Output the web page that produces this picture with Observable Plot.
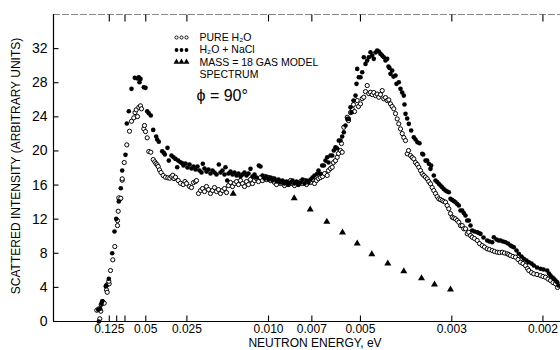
<!DOCTYPE html>
<html>
<head>
<meta charset="utf-8">
<script src="https://cdn.jsdelivr.net/npm/d3@7"></script>
<script src="https://cdn.jsdelivr.net/npm/@observablehq/plot@0.6"></script>
<style>
  html, body { margin: 0; padding: 0; background: #fff; }
  #chart { width: 560px; height: 350px; }
</style>
</head>
<body>
<div id="chart"></div>
<script>
// x values are time-of-flight channels, proportional to 1/sqrt(E): channel = K / sqrt(E[eV])
const K = 22.2;

// Pure H2O  [channel, intensity]
const pureH2O = [
[50.3,1.32],[52.3,1.49],[53.3,0.32],[54.3,1.21],[54.7,1.99],[56.3,2.34],[57.7,2.15],[60,3.72],[60.7,3.43],[61,4.34],
[62.7,4.42],[62.3,4.72],[64,5.98],[66.3,7.23],[68.3,8.79],[71,11.25],[71,11.84],[71.7,12.93],[73,14.3],[72.3,14.5],
[74.3,14.45],[75.7,16.57],[75.7,16.73],[77.7,18.64],[80.3,20.71],[83,22.31],[85,23.48],[87.3,23.88],[88.5,24.5],[89.7,24.82],
[91,24.03],[92.3,25.12],[94,25.29],[95,24.94],[97.3,22.59],[98,22.98],[99,22.27],[100.7,21.54],[102.3,19.93],[104.3,19.85],
[106.7,18.99],[108.3,18.72],[109.5,18.52],[110.7,18.37],[111.7,18.17],[113,17.78],[114.5,17.47],[116.7,17.12],[119,16.92],[121.3,16.85],
[123.3,16.8],[125,17.0],[126.3,17.15],[127.5,16.76],[129,16.92],[131.7,16.53],[134,16.21],[136.7,16.06],[138.5,16.41],[140,16.18],
[143,15.83],[145,15.71],[147,16.3],[149,16.41],[150,16.53],[152,15.01],[154,15.36],[156,15.59],[158,15.24],[160,15.83],
[162,15.47],[164,15.01],[166,15.36],[168,15.71],[170,15.24],[172,15.47],[174,15.01],[176,15.36],[178,15.59],[180,15.12],
[182,15.94],[184,16.3],[186,15.83],[188,16.18],[190,16.41],[192,16.06],[194,16.53],[196,16.18],[198,15.83],[200,16.41],
[202,16.06],[204,16.65],[206,16.18],[208,16.53],[210,16.76],[212,16.41],[214,16.88],[216,16.53],[218,17.0],[220,16.65],
[222,16.88],[224,16.53],[226,16.76],[228,16.3],[230,16.06],[232,16.53],[234,16.18],[236,16.41],[238,15.94],[240,16.3],
[242,16.06],[244,16.53],[246,16.18],[248,15.94],[250,16.3],[252,16.06],[254,16.41],[256,16.18],[258,16.53],[260,16.06],
[262,16.41],[264,16.3],[266,16.65],[268,16.18],[270,16.53],[272,16.76],[274,16.88],[276,17.0],[278,17.35],[280.7,17.12],
[282,17.7],[284,17.94],[285.7,18.09],[287,18.64],[289,18.87],[290.7,19.26],[292,19.7],[294,20.05],[295.7,19.85],[295,20.87],
[297.3,22.78],[300.7,23.95],[302,23.56],[304,24.5],[305.7,24.94],[307,25.44],[308,24.62],[310.7,25.91],[312,25.21],[314,25.52],
[315.7,26.14],[317.3,26.3],[319,26.96],[320.7,27.67],[322.3,26.73],[324,26.88],[325.7,26.61],[327.3,26.85],[329,26.49],[330.7,26.67],
[332.3,26.3],[334,26.61],[335.7,27.08],[337.3,26.11],[339,26.26],[340.7,25.91],[342.3,25.99],[344,25.52],[345.7,25.21],[347.3,24.94],
[349,24.38],[350.7,23.76],[352.3,23.18],[354,22.59],[355.7,22.04],[357.3,21.57],[359,21.22],[360.7,19.66],[362,20.05],[364,19.46],
[365.7,19.23],[367.3,19.07],[369,18.64],[370.7,18.41],[372.3,18.09],[374,17.7],[375.7,17.32],[377.3,17.12],[379,16.94],[380.7,16.73],
[382.3,16.41],[384,16.14],[385.7,15.71],[387.3,15.36],[389,15.01],[390.7,14.65],[392.3,14.38],[394,14.3],[395.7,14.19],[397.3,14.07],
[399,13.99],[400.7,13.6],[402.3,13.21],[404,12.66],[405.7,12.23],[407.3,12.13],[409,12.04],[410.7,11.84],[412.3,11.64],[414,11.25],
[415.7,11.25],[417.3,10.87],[419,10.87],[420.7,10.28],[422.3,10.47],[424,10.08],[425.7,9.88],[428,9.73],[430.7,9.5],[433,9.14],
[435.7,8.91],[438,8.73],[440.7,8.52],[443,8.44],[445.7,8.32],[448,8.21],[450.7,8.12],[453,8.09],[455.7,8.12],[458,8.03],
[460.7,7.94],[462.3,7.85],[464,7.74],[466.5,7.62],[469,7.54],[471.5,7.27],[474,6.95],[476.5,6.8],[479,6.56],[481,6.21],
[482.3,5.98],[485,5.74],[487.3,5.59],[490.5,5.51],[494,5.39],[496.5,5.28],[499,5.19],[501.5,4.98],[504,4.81],[506.5,4.57],
[509,4.42],[511,3.99]
];

// H2O + NaCl  [channel, intensity]
const h2oNaCl = [
[52.3,0.0],[51.7,1.37],[53.7,1.49],[55,2.08],[55.7,2.38],[59.3,4.14],[59.7,4.22],[62.3,5.01],[65.7,8.01],[68,10.55],
[69.7,12.04],[72.3,14.07],[74.3,15.63],[75.7,17.7],[79,19.54],[80.3,23.21],[82.3,24.65],[85,27.28],[88.3,28.57],[91,28.49],
[92.3,28.64],[93,28.05],[94,28.45],[97.3,27.47],[99,27.4],[100.7,24.65],[102.3,24.42],[104.3,24.15],[106.7,22.47],[109.7,21.69],
[110.7,21.34],[112.3,21.07],[115.7,19.96],[117.3,19.78],[118.3,19.58],[121,20.36],[122.3,18.87],[125,19.46],[127,19.26],[129,19.07],
[130.7,18.09],[131.7,18.87],[134,18.68],[135.7,18.56],[137,18.29],[139,18.52],[141,18.05],[143,18.41],[145,17.94],[147,18.17],
[149,17.82],[151,18.17],[153,17.7],[155,17.47],[156.3,18.49],[158,17.94],[160,17.58],[162,17.82],[164,17.35],[166,17.7],
[168,17.47],[170,17.23],[172.3,18.41],[174,17.47],[176,17.7],[178,17.23],[179,18.09],[180.7,16.53],[182,17.35],[184,17.58],
[186,17.23],[188,17.47],[190,17.12],[192,17.35],[194,17.0],[196,17.23],[198,17.47],[200,17.12],[202,17.35],[204,17.9],
[206,17.0],[208,17.23],[210,16.88],[212.3,18.29],[214,18.17],[216,17.12],[218,16.76],[220,17.0],[222,16.65],[224,16.88],
[226,16.53],[228,16.76],[230,16.41],[232,16.65],[234,16.3],[236,16.53],[238,16.18],[240,16.41],[242,16.06],[244,16.3],
[246,16.53],[248,16.18],[250,16.41],[252,16.06],[254,16.3],[256,16.65],[258,16.18],[260,16.53],[262,16.3],[264,16.65],
[266,16.88],[268,17.12],[270.7,17.32],[272,17.7],[274,17.32],[275.7,18.29],[277.3,18.29],[279,18.87],[280.7,19.26],[282,18.64],
[284,19.46],[285.7,19.46],[287.3,20.05],[289,20.43],[290.7,20.28],[292.3,21.22],[294,21.22],[295.7,21.69],[297.3,22.19],[299,22.98],
[300.7,23.76],[302.3,23.76],[304,25.12],[305,24.5],[307,25.91],[309,26.49],[310,27.87],[310.7,29.62],[312.3,28.64],[314,28.64],
[315.7,29.23],[317.3,30.98],[319,30.21],[320.7,30.6],[322.3,30.98],[324,31.57],[325.7,31.18],[327.3,30.8],[329,31.54],[330.7,31.77],
[332.3,31.65],[334,31.38],[335.7,31.18],[337.3,30.98],[339,30.6],[340.7,30.8],[342,29.89],[343,29.72],[344,29.04],[345.7,29.43],
[347,28.72],[349,28.84],[350,27.87],[352.3,28.05],[354,27.28],[355.7,26.85],[357.3,26.49],[358,25.44],[359,24.35],[360.7,23.8],
[362.3,23.18],[364.7,22.39],[367.3,21.61],[369,21.34],[371,21.02],[373,20.9],[375.7,19.66],[376.7,19.58],[379,18.87],[380.7,18.87],
[382.3,18.49],[384,17.9],[384.7,18.29],[387.3,17.12],[389,16.53],[390.7,16.35],[392.3,16.14],[394,15.94],[395.7,15.74],[397.3,15.53],
[399,15.36],[400.7,15.24],[402.3,15.16],[404,14.38],[405.7,14.24],[407.3,14.13],[409,13.99],[410.7,13.77],[412.3,13.6],[414,13.01],
[415.7,13.01],[417.3,12.72],[419,12.43],[420.7,11.84],[422.3,11.84],[424,11.25],[425.7,10.67],[428,10.55],[430.7,10.47],[432.3,10.38],
[434,10.28],[437,9.85],[440.7,9.5],[443,9.38],[445.7,9.3],[447.3,9.88],[450,9.61],[452,9.5],[454,9.5],[456.5,9.38],
[459,9.3],[461.5,9.14],[464,8.91],[465.7,8.79],[467.3,8.71],[470,8.32],[472.3,7.94],[475,7.62],[477.3,7.35],[480,7.15],
[482.3,6.95],[485,6.8],[487.3,6.56],[490.5,6.33],[494,6.18],[497,6.1],[500.7,5.98],[502.5,5.63],[504,5.39],[506,5.16],
[507.3,5.01],[509,4.81],[510.7,4.61],[512,4.22]
];

// Mass = 18 gas model spectrum  [channel, intensity]
const gasModel = [
[186.7,14.97],[247.7,14.45],[263.7,13.13],[280.3,11.69],[296,10.43],[310.7,9.14],[325.3,7.89],
[341.3,6.8],[357.3,5.9],[375,5.08],[388,4.34],[404,3.75]
];

// axis ticks
const xTickEnergies = [0.125, 0.1, 0.08, 0.05, 0.025, 0.010, 0.007, 0.005, 0.003, 0.002];
const xLabelEnergies = [0.125, 0.05, 0.025, 0.010, 0.007, 0.005, 0.003, 0.002];
const xLabelTexts = ["0.125", "0.05", "0.025", "0.010", "0.007", "0.005", "0.003", "0.002"];
const yTicks = [0, 4, 8, 12, 16, 20, 24, 28, 32];

// legend
const legendLabels = ["PURE H\u2082O", "H\u2082O + NaCl", "MASS = 18 GAS MODEL", "SPECTRUM"];

const xDomain = [7, 514];
const yDomain = [0, 36];

const chan = e => K / Math.sqrt(e);
const xLabels = xLabelEnergies.map((e, i) => ({e, label: xLabelTexts[i]}));

const tickUp = {draw(c) { c.moveTo(0, 0); c.lineTo(0, -6); }};
const tickDown = {draw(c) { c.moveTo(0, 0); c.lineTo(0, 7); }};
const tickRight = {draw(c) { c.moveTo(0, 0); c.lineTo(5, 0); }};

const font = "'Liberation Sans', Arial, 'DejaVu Sans', sans-serif";

const rowDy = [23, 35.5, 48, 60.5];
const legendMarks = [];
[0, 1, 2].forEach(k => {
  legendMarks.push(Plot.dot([0], {frameAnchor: "top-left", dx: 123 + 5 * k, dy: rowDy[0], r: 1.6, stroke: "black", fill: "white", strokeWidth: 0.9}));
  legendMarks.push(Plot.dot([0], {frameAnchor: "top-left", dx: 123 + 5 * k, dy: rowDy[1], r: 1.9, fill: "black"}));
  legendMarks.push(Plot.dot([0], {frameAnchor: "top-left", dx: 123 + 5 * k, dy: rowDy[2] - 0.5, r: 2.2, symbol: "triangle", fill: "black"}));
});
legendLabels.forEach((label, i) => {
  legendMarks.push(Plot.text([label], {frameAnchor: "top-left", dx: 146, dy: rowDy[i], textAnchor: "start", lineAnchor: "middle", fontSize: 10.5}));
});

const chart = Plot.plot({
  width: 560,
  height: 350,
  marginLeft: 53,
  marginRight: 0,
  marginTop: 14,
  marginBottom: 29,
  style: {fontFamily: font, background: "white", color: "black"},
  x: {domain: xDomain, axis: null},
  y: {domain: yDomain, axis: null},
  marks: [
    // frame lines
    Plot.ruleY([yDomain[1]], {stroke: "#888", strokeWidth: 1, strokeDasharray: "7,2"}),
    Plot.ruleY([0], {stroke: "black", strokeWidth: 1.2}),
    Plot.ruleX([xDomain[0]], {stroke: "black", strokeWidth: 1.2}),
    // ticks
    Plot.dot(xTickEnergies, {x: chan, frameAnchor: "bottom", symbol: tickUp, stroke: "black", fill: "none", strokeWidth: 1.1}),
    Plot.dot(xTickEnergies.filter(e => e !== 0.1), {x: chan, frameAnchor: "top", symbol: tickDown, stroke: "black", fill: "none", strokeWidth: 1.1}),
    Plot.dot(yTicks, {y: d => d, frameAnchor: "left", symbol: tickRight, stroke: "black", fill: "none", strokeWidth: 1.1}),
    // tick labels
    Plot.text(xLabels, {x: d => chan(d.e), text: "label", frameAnchor: "bottom", dy: 8, lineAnchor: "middle", textAnchor: "middle", fontSize: 12}),
    Plot.text(yTicks, {y: d => d, text: d => String(d), frameAnchor: "left", dx: -6, textAnchor: "end", lineAnchor: "middle", fontSize: 14}),
    // axis titles
    Plot.text(["NEUTRON ENERGY, eV"], {frameAnchor: "bottom", dx: 8, dy: 22, lineAnchor: "middle", textAnchor: "middle", fontSize: 12}),
    Plot.text(["SCATTERED INTENSITY (ARBITRARY UNITS)"], {frameAnchor: "left", dx: -37, dy: -2, rotate: -90, textAnchor: "middle", lineAnchor: "middle", fontSize: 12}),
    // data
    Plot.dot(gasModel, {x: "0", y: "1", symbol: "triangle", r: 2.6, fill: "black"}),
    Plot.dot(pureH2O, {x: "0", y: "1", r: 2.1, stroke: "black", fill: "white", strokeWidth: 1}),
    Plot.dot(h2oNaCl, {x: "0", y: "1", r: 2.3, fill: "black"}),
    // legend
    ...legendMarks,
    Plot.text(["\u03D5 = 90\u00B0"], {frameAnchor: "top-left", dx: 143, dy: 81, textAnchor: "start", lineAnchor: "middle", fontSize: 16})
  ]
});
document.getElementById("chart").appendChild(chart);
</script>
</body>
</html>
